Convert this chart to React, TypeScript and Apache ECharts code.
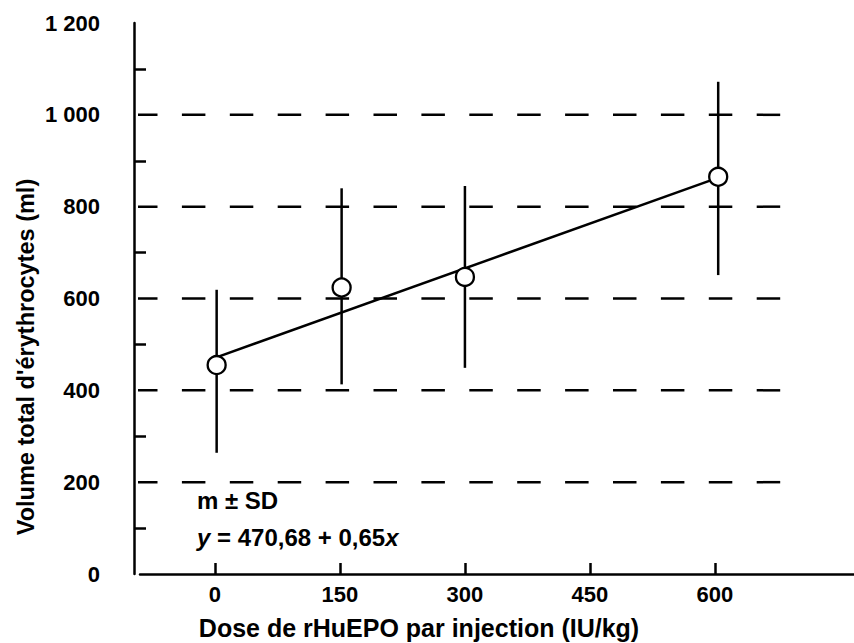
import React, { useEffect, useRef } from "react";
import * as echarts from "echarts";

// ---- Data ----
const DOSES = [2, 152, 300, 604]; // rHuEPO dose per injection (IU/kg)
const MEANS = [455, 624, 647, 865]; // mean total red-cell volume (ml)
const SD_LOW = [264, 413, 449, 651]; // mean - SD
const SD_HIGH = [619, 840, 845, 1072]; // mean + SD
const X_TICKS = [0, 150, 300, 450, 600];
const Y_MINOR_TICKS = [100, 300, 500, 700, 900, 1100];
const GRID_LEVELS = [200, 400, 600, 800, 1000];
const FIT_INTERCEPT = 470.68;
const FIT_SLOPE = 0.65;
const FIT_X = [0, 600];

const FONT = "'Liberation Sans', Arial, Helvetica, sans-serif";
const BLACK = "#000";

function fmtY(v: number): string {
  if (v >= 1000) {
    const th = Math.floor(v / 1000);
    const rest = String(v % 1000).padStart(3, "0");
    return th + " " + rest;
  }
  return String(v);
}

export default function App() {
  const ref = useRef<HTMLDivElement>(null);

  useEffect(() => {
    if (!ref.current) return;
    const chart = echarts.init(ref.current, null, { renderer: "svg" });

    const gridSeries = GRID_LEVELS.map((lvl) => ({
      type: "line",
      data: [
        [-97.2, lvl],
        [679, lvl],
      ],
      clip: false,
      symbol: "none",
      silent: true,
      z: 1,
      lineStyle: { color: BLACK, width: 2.5, type: [23.5, 24.4] },
    }));

    const errData = DOSES.map((d, i) => [d, SD_LOW[i], SD_HIGH[i]]);
    const fitData = FIT_X.map((x) => [x, FIT_INTERCEPT + FIT_SLOPE * x]);
    const pts = DOSES.map((d, i) => [d, MEANS[i]]);

    const option: any = {
      animation: false,
      backgroundColor: "#fff",
      grid: { left: 140, right: 0, top: 23, bottom: 69, containLabel: false },
      xAxis: {
        type: "value",
        min: -90,
        max: 767,
        splitLine: { show: false },
        axisLine: { show: true, onZero: false, lineStyle: { color: BLACK, width: 2.5 } },
        axisTick: {
          show: true,
          inside: true,
          length: 11,
          customValues: X_TICKS,
          lineStyle: { color: BLACK, width: 2.5 },
        },
        axisLabel: {
          customValues: X_TICKS,
          color: BLACK,
          fontFamily: FONT,
          fontWeight: "bold",
          fontSize: 22,
          margin: 9,
        },
      },
      yAxis: {
        type: "value",
        min: 0,
        max: 1200,
        interval: 200,
        offset: 6,
        splitLine: { show: false },
        axisLine: { show: true, onZero: false, lineStyle: { color: BLACK, width: 2.5 } },
        axisTick: {
          show: true,
          inside: true,
          length: 12,
          customValues: Y_MINOR_TICKS,
          lineStyle: { color: BLACK, width: 2.5 },
        },
        axisLabel: {
          color: BLACK,
          fontFamily: FONT,
          fontWeight: "bold",
          fontSize: 22,
          margin: 34,
          formatter: (v: number) => fmtY(v),
        },
      },
      graphic: [
        {
          type: "text",
          x: 26,
          y: 357,
          rotation: Math.PI / 2,
          style: {
            text: "Volume total d'érythrocytes (ml)",
            fill: BLACK,
            font: `bold 23.5px ${FONT}`,
            align: "center",
            verticalAlign: "middle",
          },
        },
        {
          type: "text",
          x: 419,
          y: 628,
          style: {
            text: "Dose de rHuEPO par injection (IU/kg)",
            fill: BLACK,
            font: `bold 25px ${FONT}`,
            align: "center",
            verticalAlign: "middle",
          },
        },
        {
          type: "text",
          x: 197,
          y: 500,
          style: {
            text: "m ± SD",
            fill: BLACK,
            font: `bold 24px ${FONT}`,
            align: "left",
            verticalAlign: "middle",
          },
        },
        {
          type: "text",
          x: 197,
          y: 537,
          style: {
            text: "{i|y}{n| = 470,68 + 0,65}{i|x}",
            fill: BLACK,
            font: `bold 24px ${FONT}`,
            align: "left",
            verticalAlign: "middle",
            rich: {
              i: {
                fontFamily: FONT,
                fontSize: 24,
                fontWeight: "bold",
                fontStyle: "italic",
                fill: BLACK,
              },
              n: {
                fontFamily: FONT,
                fontSize: 24,
                fontWeight: "bold",
                fill: BLACK,
              },
            },
          },
        },
      ],
      series: [
        ...gridSeries,
        {
          type: "custom",
          z: 2,
          data: errData,
          encode: { x: 0, y: [1, 2] },
          renderItem: (params: any, api: any) => {
            const x = api.value(0);
            const p1 = api.coord([x, api.value(1)]);
            const p2 = api.coord([x, api.value(2)]);
            return {
              type: "line",
              shape: { x1: p1[0], y1: p1[1], x2: p2[0], y2: p2[1] },
              style: { stroke: BLACK, lineWidth: 2.5 },
            };
          },
        },
        {
          type: "line",
          z: 3,
          data: fitData,
          symbol: "none",
          lineStyle: { color: BLACK, width: 2.5 },
        },
        {
          type: "scatter",
          z: 4,
          data: pts,
          symbol: "circle",
          symbolSize: 18,
          itemStyle: { color: "#fff", borderColor: BLACK, borderWidth: 2.3, opacity: 1 },
        },
      ],
    };

    chart.setOption(option);
    return () => chart.dispose();
  }, []);

  return (
    <div
      ref={ref}
      style={{ position: "fixed", left: 0, top: 0, width: 854, height: 643, background: "#fff" }}
    />
  );
}
